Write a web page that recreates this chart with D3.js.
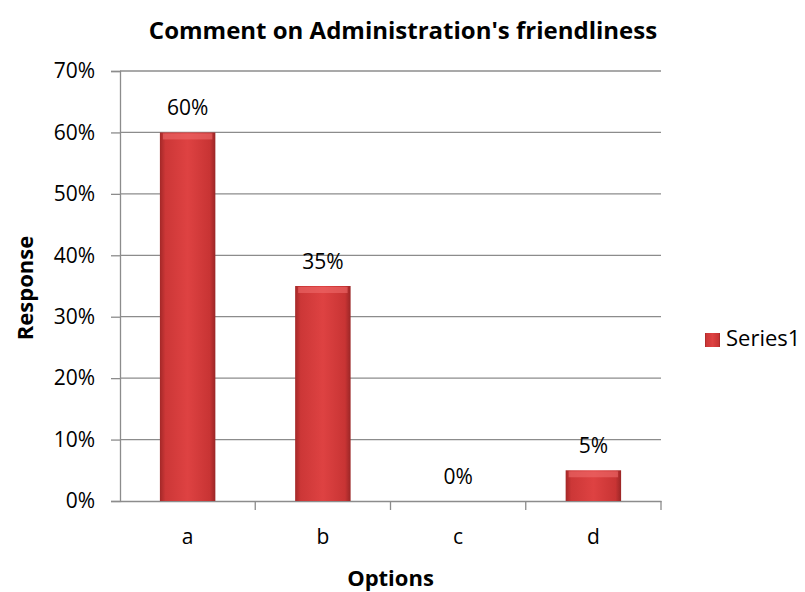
<!DOCTYPE html>
<html lang="en">
<head>
<meta charset="UTF-8">
<title>Comment on Administration's friendliness</title>
<script src="https://d3js.org/d3.v7.min.js"></script>
<style>
  body { margin: 0; background: #fff; }
  text { font-family: "Open Sans", "Noto Sans", sans-serif; fill: #000; }
</style>
</head>
<body>
<div id="chart"></div>
<script>
// data
var options = ["a", "b", "c", "d"];
var responses = [0.60, 0.35, 0.00, 0.05];
var yTicks = [0, 0.1, 0.2, 0.3, 0.4, 0.5, 0.6, 0.7];
var seriesName = "Series1";

var W = 805, H = 592;
var margin = { top: 71, right: 144, bottom: 91, left: 120 },
    width = W - margin.left - margin.right,
    height = H - margin.top - margin.bottom;

var svg = d3.select("#chart").append("svg")
    .attr("width", W)
    .attr("height", H);

// bar gradients
var defs = svg.append("defs");
var grad = defs.append("linearGradient").attr("id", "barGrad")
    .attr("x1", "0").attr("x2", "1").attr("y1", "0").attr("y2", "0");
grad.append("stop").attr("offset", "0%").attr("stop-color", "#a32828");
grad.append("stop").attr("offset", "10%").attr("stop-color", "#cc3737");
grad.append("stop").attr("offset", "50%").attr("stop-color", "#de4242");
grad.append("stop").attr("offset", "90%").attr("stop-color", "#c83434");
grad.append("stop").attr("offset", "100%").attr("stop-color", "#9a2626");

var g = svg.append("g")
    .attr("transform", "translate(" + margin.left + "," + margin.top + ")");

var x = d3.scaleBand()
    .domain(options)
    .range([0, width])
    .paddingInner(0.59)
    .paddingOuter(0.295);

var xTick = d3.scaleBand().domain(options).range([0, width]);

var y = d3.scaleLinear()
    .domain([0, 0.7])
    .range([height, 0]);

// gridlines
g.append("g")
    .selectAll("line")
    .data(yTicks.slice(1))
    .enter().append("line")
    .attr("x1", 0).attr("x2", width)
    .attr("y1", function (d) { return y(d); })
    .attr("y2", function (d) { return y(d); })
    .attr("stroke", "#8c8c8c")
    .attr("stroke-width", 1.3);

// y axis
var yAxis = g.append("g")
    .call(d3.axisLeft(y).tickValues(yTicks).tickFormat(d3.format(".0%")).tickSize(9).tickPadding(16));
yAxis.select(".domain").attr("stroke", "#8c8c8c").attr("stroke-width", 1.3);
yAxis.selectAll(".tick line").attr("stroke", "#8c8c8c").attr("stroke-width", 1.3);
yAxis.selectAll("text").style("font-size", "21px").style("font-family", "'Open Sans', sans-serif").attr("fill", "#000");

// x axis
var xAxis = g.append("g")
    .attr("transform", "translate(0," + height + ")")
    .call(d3.axisBottom(xTick).tickSize(0).tickPadding(28));
xAxis.select(".domain").attr("stroke", "#8c8c8c").attr("stroke-width", 1.3);
xAxis.selectAll("text").style("font-size", "21px").style("font-family", "'Open Sans', sans-serif").attr("fill", "#000");
// tick marks on category boundaries
g.append("g")
    .selectAll("line")
    .data(options)
    .enter().append("line")
    .attr("x1", function (d) { return xTick(d) + xTick.bandwidth(); })
    .attr("x2", function (d) { return xTick(d) + xTick.bandwidth(); })
    .attr("y1", height).attr("y2", height + 9)
    .attr("stroke", "#8c8c8c").attr("stroke-width", 1.3);

// bars
var bars = g.append("g").selectAll("g")
    .data(responses)
    .enter().append("g");

bars.append("rect")
    .attr("x", function (d, i) { return x(options[i]); })
    .attr("y", function (d) { return y(d); })
    .attr("width", x.bandwidth())
    .attr("height", function (d) { return height - y(d); })
    .attr("fill", "url(#barGrad)");

// top bevel highlight
bars.filter(function (d) { return d > 0; }).append("rect")
    .attr("x", function (d) { return x(options[responses.indexOf(d)]) + 3; })
    .attr("y", function (d) { return y(d) + 1; })
    .attr("width", x.bandwidth() - 6)
    .attr("height", 6)
    .attr("fill", "#ee6b6b")
    .attr("opacity", 0.6);

// value labels
g.append("g").selectAll("text")
    .data(responses)
    .enter().append("text")
    .attr("x", function (d, i) { return x(options[i]) + x.bandwidth() / 2; })
    .attr("y", function (d) { return y(d) - 17; })
    .attr("text-anchor", "middle")
    .style("font-size", "21px")
    .text(function (d) { return d3.format(".0%")(d); });

// title
svg.append("text")
    .attr("x", 403)
    .attr("y", 39)
    .attr("text-anchor", "middle")
    .style("font-size", "24px")
    .style("font-weight", "bold")
    .text("Comment on Administration's friendliness");

// axis titles
svg.append("text")
    .attr("x", margin.left + width / 2)
    .attr("y", 586)
    .attr("text-anchor", "middle")
    .style("font-size", "22px")
    .style("font-weight", "bold")
    .text("Options");

svg.append("text")
    .attr("transform", "translate(33," + (margin.top + height / 2 + 2) + ") rotate(-90)")
    .attr("text-anchor", "middle")
    .style("font-size", "22px")
    .style("font-weight", "bold")
    .text("Response");

// legend
var legend = svg.append("g").attr("transform", "translate(705,333)");
legend.append("rect")
    .attr("width", 15).attr("height", 14)
    .attr("fill", "url(#barGrad)");
legend.append("text")
    .attr("x", 21).attr("y", 13)
    .style("font-size", "22px")
    .text(seriesName);
</script>
</body>
</html>
